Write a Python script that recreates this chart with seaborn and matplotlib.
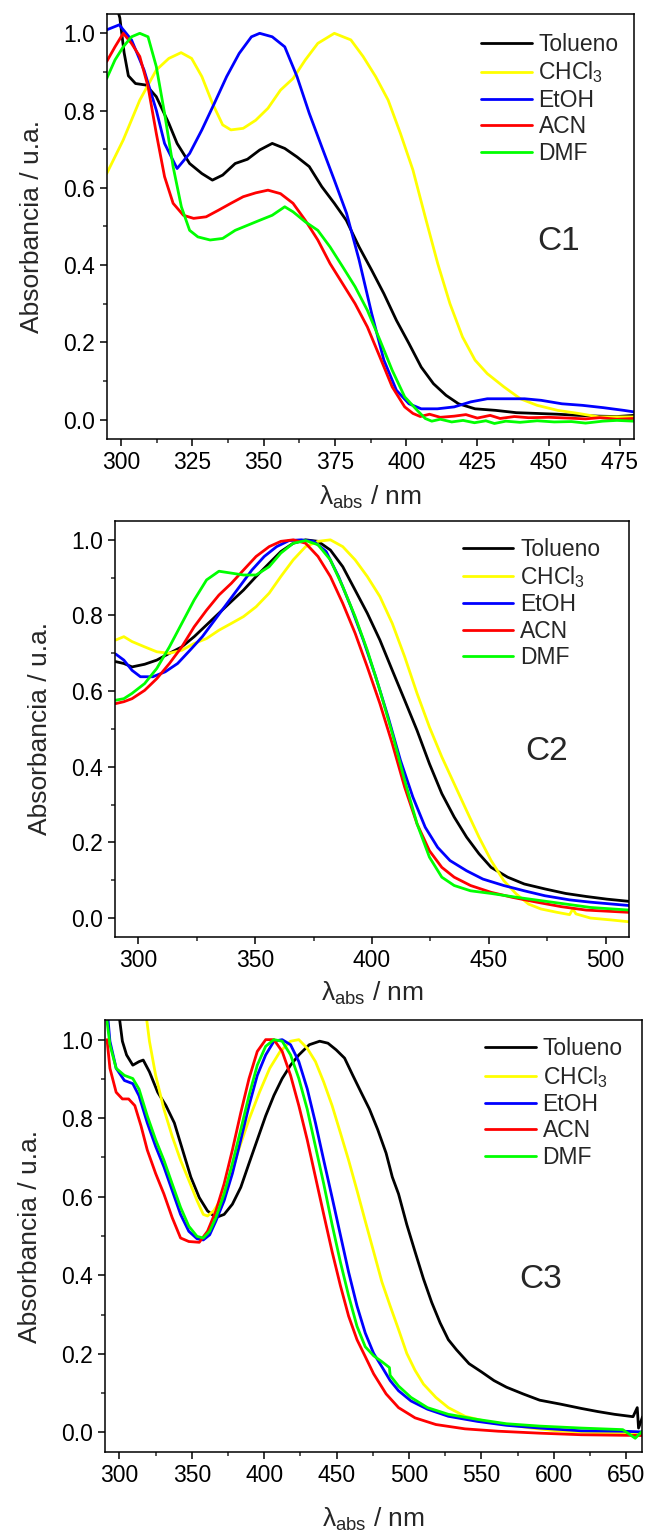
import matplotlib
matplotlib.use('Agg')
import matplotlib.pyplot as plt
from matplotlib.ticker import MultipleLocator
import seaborn as sns

# --- C1 spectra ---
c1_tol_x = [298, 299.5, 301, 302.5, 305, 308.7, 312.3, 316.7, 319.6, 324, 328.3, 332, 335.6, 340, 344.3,
            348.6, 353, 357.4, 361.7, 366, 370.4, 374.8, 379, 383.5, 387.9, 392.2, 396.6, 401, 405.3,
            409.6, 414, 418.4, 424.2, 431.4, 438.7, 446, 453.2, 460.5, 467.7, 474, 480]
c1_tol_y = [1.08, 1.04, 0.95, 0.89, 0.87, 0.866, 0.836, 0.767, 0.715, 0.663, 0.637, 0.62, 0.633, 0.663, 0.674,
            0.698, 0.715, 0.702, 0.68, 0.655, 0.603, 0.56, 0.516, 0.447, 0.387, 0.326, 0.257, 0.197, 0.136,
            0.093, 0.063, 0.041, 0.028, 0.024, 0.018, 0.016, 0.014, 0.011, 0.009, 0.008, 0.011]

c1_chcl3_x = [294.9, 300.7, 306.5, 312.3, 316.7, 321, 324.7, 328.3, 332, 335.6, 338.5, 342.8, 347.2, 351.5,
              355.9, 360.3, 364.6, 369, 374.8, 380.6, 384.9, 389.3, 393.7, 398, 402.4, 406.7, 411.1,
              415.4, 419.8, 424.2, 428.5, 434.3, 440.1, 446, 453.2, 460.5, 467.7, 480]
c1_chcl3_y = [0.637, 0.724, 0.827, 0.905, 0.935, 0.95, 0.935, 0.888, 0.819, 0.763, 0.75, 0.754, 0.775, 0.806,
              0.853, 0.883, 0.931, 0.974, 1.0, 0.983, 0.94, 0.888, 0.827, 0.741, 0.646, 0.525, 0.404,
              0.3, 0.214, 0.154, 0.119, 0.085, 0.054, 0.037, 0.024, 0.016, 0.007, 0.007]

c1_etoh_x = [294.9, 299.3, 303.6, 308, 312.3, 315.2, 319.6, 324, 328.3, 332.7, 337, 341.4, 345.7, 348.6,
             353, 357.4, 361.7, 366, 370.4, 374.8, 379.1, 383.5, 387.9, 392.2, 396.6, 401, 405.3, 411,
             416.9, 422.7, 428.5, 435.8, 441.6, 447.4, 454.7, 461.9, 469.2, 476.4, 480]
c1_etoh_y = [1.009, 1.022, 0.983, 0.905, 0.801, 0.715, 0.65, 0.689, 0.75, 0.819, 0.888, 0.948, 0.991, 1.0,
             0.991, 0.965, 0.888, 0.793, 0.706, 0.62, 0.534, 0.413, 0.275, 0.154, 0.076, 0.041, 0.028, 0.028,
             0.033, 0.046, 0.054, 0.054, 0.054, 0.05, 0.041, 0.037, 0.031, 0.024, 0.02]

c1_acn_x = [294.9, 297.8, 300.7, 303.6, 306.5, 309.4, 312.3, 315.2, 318.2, 321.8, 325.4, 329.8, 334.1,
            338.5, 342.8, 347.2, 351.5, 355.9, 360.3, 364.6, 369, 373.3, 377.7, 382.1, 386.4, 390.8,
            395.1, 399.5, 402.4, 405, 408.2, 412, 416.9, 421, 425, 429.5, 433, 438, 443, 450, 457,
            463, 468, 474, 480]
c1_acn_y = [0.927, 0.965, 1.0, 0.974, 0.94, 0.862, 0.741, 0.629, 0.56, 0.529, 0.521, 0.525, 0.542,
            0.56, 0.577, 0.587, 0.594, 0.585, 0.56, 0.516, 0.465, 0.404, 0.352, 0.3, 0.24, 0.162,
            0.085, 0.033, 0.016, 0.008, 0.014, 0.006, 0.009, 0.013, 0.004, 0.011, 0.003, 0.008, 0.005, 0.006, 0.004,
            0.002, 0.005, 0.001, 0.003]

c1_dmf_x = [294.9, 297.8, 300.7, 303.6, 306.5, 309.4, 312.3, 315.2, 318.2, 321.1, 324, 326.9, 331.2,
            335.6, 340, 344.3, 348.6, 353, 357.4, 360.3, 364.6, 369, 373.3, 377.7, 382.1, 386.4,
            390.8, 395.1, 399.5, 403.9, 406.7, 409, 412, 416, 420, 424, 428, 431, 435, 440, 446, 452,
            458, 463, 469, 474, 480]
c1_dmf_y = [0.883, 0.931, 0.965, 0.991, 1.0, 0.991, 0.914, 0.793, 0.655, 0.551, 0.49, 0.473, 0.465,
            0.469, 0.49, 0.503, 0.516, 0.529, 0.551, 0.538, 0.512, 0.49, 0.447, 0.396, 0.344, 0.283,
            0.206, 0.128, 0.059, 0.024, 0.003, -0.004, 0.001, -0.006, -0.002, -0.008, -0.003, -0.01,
            -0.004, -0.007, -0.003, -0.006, -0.005, -0.009, -0.004, -0.002, -0.004]

# --- C2 spectra ---
c2_tol_x = [290.3, 293.8, 297.3, 302.7, 307.9, 313.3, 318.6, 323.9, 329.2, 334.5, 339.8, 345, 350.4, 356,
            361, 366.3, 371.6, 376.9, 382.2, 387.5, 392.8, 398, 403.4, 408.7, 414, 419.3, 424.6, 429.9,
            435.2, 440.5, 445.8, 451, 458.1, 465.2, 474, 482.9, 491.7, 500.5, 510.2]
c2_tol_y = [0.678, 0.673, 0.664, 0.671, 0.682, 0.7, 0.717, 0.744, 0.775, 0.806, 0.837, 0.867, 0.903, 0.938,
            0.969, 0.991, 1.0, 0.996, 0.973, 0.929, 0.867, 0.806, 0.735, 0.655, 0.576, 0.496, 0.408, 0.329,
            0.267, 0.214, 0.17, 0.134, 0.108, 0.09, 0.077, 0.065, 0.057, 0.05, 0.044]

c2_chcl3_x = [290.3, 293.8, 297.3, 302.7, 307.9, 313.3, 318.6, 323.9, 329.2, 334.5, 339.8, 345, 350.4,
              356, 361, 366.3, 371.6, 376.9, 382.2, 387.5, 392.8, 398, 403.4, 408.7, 414, 419.3, 424.6,
              429.9, 435.2, 440.5, 445.8, 451, 456.4, 461.7, 467, 472.3, 479.3, 484.6, 486, 487.3,
              493.5, 502.3, 510.2]
c2_chcl3_y = [0.735, 0.744, 0.731, 0.717, 0.704, 0.7, 0.708, 0.726, 0.739, 0.761, 0.779, 0.797, 0.823,
              0.859, 0.903, 0.947, 0.982, 0.996, 1.0, 0.982, 0.947, 0.903, 0.85, 0.779, 0.691, 0.594, 0.505,
              0.426, 0.355, 0.284, 0.214, 0.152, 0.099, 0.064, 0.037, 0.024, 0.015, 0.009, 0.024, 0.011,
              0.0, -0.005, -0.01]

c2_etoh_x = [290.3, 293.8, 297.3, 300.9, 306.2, 311.5, 316.8, 322.1, 327.4, 332.7, 338, 343.3, 348.6,
             353.9, 359.2, 364.5, 369.8, 375.1, 380.4, 385.7, 391, 396.3, 401.6, 406.9, 412.2, 417.5,
             422.8, 428.1, 433.4, 440.5, 447.5, 456.4, 465.2, 474, 484.6, 493.5, 510.2]
c2_etoh_y = [0.698, 0.682, 0.655, 0.638, 0.638, 0.651, 0.673, 0.708, 0.744, 0.788, 0.832, 0.876, 0.92,
             0.956, 0.982, 0.998, 1.0, 0.996, 0.969, 0.903, 0.823, 0.735, 0.638, 0.532, 0.417, 0.32,
             0.24, 0.187, 0.152, 0.125, 0.103, 0.086, 0.072, 0.059, 0.048, 0.042, 0.033]

c2_acn_x = [290.3, 293.8, 297.3, 302.7, 307.9, 313.3, 318.6, 323.9, 329.2, 334.5, 339.8, 345, 350.4, 356,
            361, 366.3, 371.6, 376.9, 382.2, 387.5, 392.8, 398, 403.4, 408.7, 414, 419.3, 424.6, 429.9,
            435.2, 442.2, 451, 459.9, 470.5, 481.1, 491.7, 510.2]
c2_acn_y = [0.567, 0.572, 0.58, 0.602, 0.633, 0.673, 0.717, 0.77, 0.814, 0.854, 0.885, 0.92, 0.956, 0.982,
            0.996, 1.0, 0.991, 0.956, 0.903, 0.832, 0.753, 0.664, 0.567, 0.461, 0.346, 0.249, 0.178, 0.134,
            0.108, 0.086, 0.068, 0.055, 0.042, 0.03, 0.021, 0.015]

c2_dmf_x = [290.3, 293.8, 297.3, 302.7, 307.9, 313.3, 318.6, 323.9, 329.2, 334.5, 339.8, 345, 350.4, 356,
            361, 366.3, 371.6, 376.9, 382.2, 387.5, 392.8, 398, 403.4, 408.7, 414, 419.3, 424.6, 429.9,
            435.2, 442.2, 451, 461.7, 472.3, 482.9, 493.5, 510.2]
c2_dmf_y = [0.576, 0.58, 0.594, 0.62, 0.66, 0.717, 0.779, 0.841, 0.894, 0.917, 0.912, 0.907, 0.907, 0.929,
            0.965, 0.991, 0.998, 0.987, 0.947, 0.876, 0.797, 0.708, 0.602, 0.488, 0.364, 0.249, 0.161, 0.108,
            0.086, 0.072, 0.065, 0.055, 0.046, 0.037, 0.028, 0.021]

# --- C3 spectra ---
c3_tol_x = [299.1, 302, 304.9, 309.2, 313.5, 316.4, 320.7, 326.4, 332.1, 337.9, 343.6, 349.3, 355.1, 360.8,
            366.6, 372.3, 378, 383.8, 389.5, 395.2, 401, 406.7, 412.4, 418.2, 423.9, 431.1, 438.3, 444,
            449.7, 455.5, 461.2, 466.9, 472.7, 478.4, 484.2, 488.5, 492.8, 498.5, 504.2, 510, 515.7, 521.5,
            527.2, 532.9, 541.5, 550.1, 558.7, 567.4, 578.8, 590.3, 604.6, 619, 630.5, 642, 654.8, 657.7,
            658.6, 661.4]
c3_tol_y = [1.08, 0.996, 0.961, 0.935, 0.944, 0.948, 0.918, 0.866, 0.832, 0.788, 0.719, 0.65, 0.598, 0.564,
            0.547, 0.555, 0.581, 0.624, 0.685, 0.745, 0.806, 0.858, 0.901, 0.935, 0.961, 0.987, 0.996, 0.991,
            0.974, 0.953, 0.909, 0.866, 0.823, 0.771, 0.711, 0.65, 0.607, 0.529, 0.46, 0.391, 0.331, 0.279,
            0.236, 0.21, 0.175, 0.154, 0.132, 0.115, 0.098, 0.082, 0.072, 0.061, 0.053, 0.046, 0.04, 0.063,
            0.011, 0.04]

c3_chcl3_x = [317.8, 320.7, 325, 330.7, 336.4, 342.2, 347.9, 353.6, 357.9, 360.8, 365.1, 370.9, 376.6,
              382.3, 389.5, 396.7, 403.8, 411, 418.2, 423.9, 429.7, 435.4, 441.1, 446.9, 452.6, 458.3,
              464.1, 469.8, 475.6, 481.3, 487, 492.8, 498.5, 504.2, 510, 518.6, 527.2, 538.7, 553,
              567.4, 584.6, 601.8, 619, 636.2, 661.4]
c3_chcl3_y = [1.08, 0.996, 0.909, 0.823, 0.754, 0.693, 0.642, 0.59, 0.555, 0.551, 0.564, 0.598, 0.65,
              0.719, 0.797, 0.866, 0.927, 0.97, 0.996, 1.0, 0.978, 0.944, 0.892, 0.832, 0.763, 0.693,
              0.616, 0.538, 0.46, 0.383, 0.322, 0.262, 0.201, 0.158, 0.123, 0.089, 0.063, 0.041, 0.028,
              0.02, 0.011, 0.004, 0.001, -0.002, -0.004]

c3_etoh_x = [291.4, 293.4, 297.7, 303.4, 309.2, 313.5, 319.2, 325, 330.7, 336.4, 342.2, 347.9, 353.6,
             357.9, 362.3, 366.6, 372.3, 378, 383.8, 389.5, 395.2, 401, 406.7, 412.4, 418.2, 423.9, 429.7,
             435.4, 441.1, 446.9, 452.6, 458.3, 464.1, 469.8, 475.6, 481.3, 487, 492.8, 501.4, 512.8,
             527.2, 547.3, 567.4, 590.3, 619, 647.7, 661.4]
c3_etoh_y = [1.08, 0.996, 0.927, 0.896, 0.888, 0.857, 0.788, 0.728, 0.676, 0.616, 0.555, 0.512, 0.493,
             0.49, 0.503, 0.538, 0.59, 0.659, 0.745, 0.832, 0.909, 0.961, 0.996, 1.0, 0.987, 0.944, 0.875,
             0.788, 0.693, 0.598, 0.503, 0.408, 0.322, 0.253, 0.201, 0.167, 0.132, 0.106, 0.08, 0.059,
             0.041, 0.028, 0.018, 0.011, 0.004, 0.003, 0.001]

c3_acn_x = [291.4, 293.4, 297.7, 302, 306.3, 310.6, 314.9, 319.2, 325, 330.7, 336.4, 342.2, 347.9, 355.1,
            360.8, 366.6, 372.3, 378, 383.8, 389.5, 395.2, 401, 406.7, 412.4, 418.2, 423.9, 429.7, 435.4,
            441.1, 446.9, 452.6, 458.3, 464.1, 469.8, 475.6, 484.2, 492.8, 504.2, 518.6, 538.7, 561.6,
            590.3, 619, 661.4]
c3_acn_y = [1.0, 0.927, 0.866, 0.849, 0.849, 0.832, 0.78, 0.719, 0.659, 0.607, 0.547, 0.495, 0.486, 0.484,
            0.512, 0.564, 0.633, 0.719, 0.814, 0.901, 0.97, 1.0, 1.0, 0.97, 0.909, 0.832, 0.745, 0.65,
            0.555, 0.46, 0.374, 0.296, 0.236, 0.193, 0.149, 0.098, 0.063, 0.037, 0.02, 0.009, 0.003,
            -0.002, -0.006, -0.008]

c3_dmf_x = [291.4, 293.4, 297.7, 303.4, 309.2, 313.5, 319.2, 325, 330.7, 336.4, 342.2, 347.9, 353.6,
            357.9, 362.3, 366.6, 372.3, 378, 383.8, 389.5, 395.2, 401, 406.7, 412.4, 418.2, 423.9, 429.7,
            435.4, 441.1, 446.9, 452.6, 458.3, 464.1, 469.8, 475.6, 481.3, 486.5, 487, 492.8, 501.4,
            512.8, 527.2, 547.3, 567.4, 590.3, 619, 647.7, 656.3, 661.4]
c3_dmf_y = [1.047, 0.987, 0.927, 0.909, 0.901, 0.874, 0.806, 0.745, 0.693, 0.633, 0.573, 0.525, 0.499,
            0.495, 0.512, 0.547, 0.607, 0.685, 0.771, 0.858, 0.935, 0.983, 1.0, 0.996, 0.961, 0.901, 0.823,
            0.728, 0.633, 0.529, 0.434, 0.348, 0.27, 0.218, 0.195, 0.18, 0.165, 0.145, 0.118, 0.089,
            0.063, 0.046, 0.033, 0.022, 0.016, 0.011, 0.007, -0.015, 0.004]

solvents = ['Tolueno', 'CHCl$_3$', 'EtOH', 'ACN', 'DMF']
colors = ['#000000', '#FFFF00', '#0000FF', '#FF0000', '#00FF00']

panels = [
    {'name': 'C1',
     'series': [(c1_tol_x, c1_tol_y), (c1_chcl3_x, c1_chcl3_y), (c1_etoh_x, c1_etoh_y),
                (c1_acn_x, c1_acn_y), (c1_dmf_x, c1_dmf_y)],
     'rect': [0.1654, 0.7146, 0.8145, 0.2763], 'xlim': (295, 480), 'xmaj': 25,
     'leg': (0.71, 0.955), 'label_pos': (0.856, 0.464), 'xpad': 7},
    {'name': 'C2',
     'series': [(c2_tol_x, c2_tol_y), (c2_chcl3_x, c2_chcl3_y), (c2_etoh_x, c2_etoh_y),
                (c2_acn_x, c2_acn_y), (c2_dmf_x, c2_dmf_y)],
     'rect': [0.1777, 0.3908, 0.7944, 0.2705], 'xlim': (290, 510), 'xmaj': 50,
     'leg': (0.677, 0.96), 'label_pos': (0.84, 0.445), 'xpad': 6},
    {'name': 'C3',
     'series': [(c3_tol_x, c3_tol_y), (c3_chcl3_x, c3_chcl3_y), (c3_etoh_x, c3_etoh_y),
                (c3_acn_x, c3_acn_y), (c3_dmf_x, c3_dmf_y)],
     'rect': [0.1623, 0.0559, 0.830, 0.2809], 'xlim': (290, 661), 'xmaj': 50,
     'leg': (0.708, 0.96), 'label_pos': (0.812, 0.40), 'xpad': 14},
]

sns.set_style('ticks')
plt.rcParams['font.family'] = ['Liberation Sans', 'DejaVu Sans']
plt.rcParams['mathtext.fontset'] = 'custom'
plt.rcParams['mathtext.rm'] = 'Liberation Sans'
plt.rcParams['mathtext.it'] = 'Liberation Sans:italic'
plt.rcParams['axes.linewidth'] = 1.1
plt.rcParams['axes.edgecolor'] = 'black'

fig = plt.figure(figsize=(6.47, 15.38), dpi=100)

for p in panels:
    ax = fig.add_axes(p['rect'])
    for (x, y), lab, col in zip(p['series'], solvents, colors):
        sns.lineplot(x=x, y=y, ax=ax, color=col, label=lab, linewidth=2.0, sort=False)
    ax.set_xlim(*p['xlim'])
    ax.set_ylim(-0.05, 1.05)
    ax.xaxis.set_major_locator(MultipleLocator(p['xmaj']))
    ax.xaxis.set_minor_locator(MultipleLocator(p['xmaj'] / 2))
    ax.yaxis.set_major_locator(MultipleLocator(0.2))
    ax.yaxis.set_minor_locator(MultipleLocator(0.1))
    ax.tick_params(which='major', direction='out', length=5, width=1.1, labelsize=16.5, colors='black')
    ax.tick_params(which='minor', direction='out', length=3, width=1.1)
    ax.set_xlabel('λ$_{\\mathrm{abs}}$ / nm', fontsize=19, labelpad=p['xpad'])
    ax.set_ylabel('Absorbancia / u.a.', fontsize=19, labelpad=14)
    for s in ax.spines.values():
        s.set_visible(True)
        s.set_color('black')
    ax.text(p['label_pos'][0], p['label_pos'][1], p['name'], transform=ax.transAxes,
            fontsize=24, ha='center', va='center')
    ax.legend(loc='upper left', bbox_to_anchor=p['leg'], frameon=False, fontsize=16.5,
              handlelength=2.2, handletextpad=0.3, labelspacing=0.15,
              borderpad=0, borderaxespad=0)

fig.savefig('out.png', dpi=100)
